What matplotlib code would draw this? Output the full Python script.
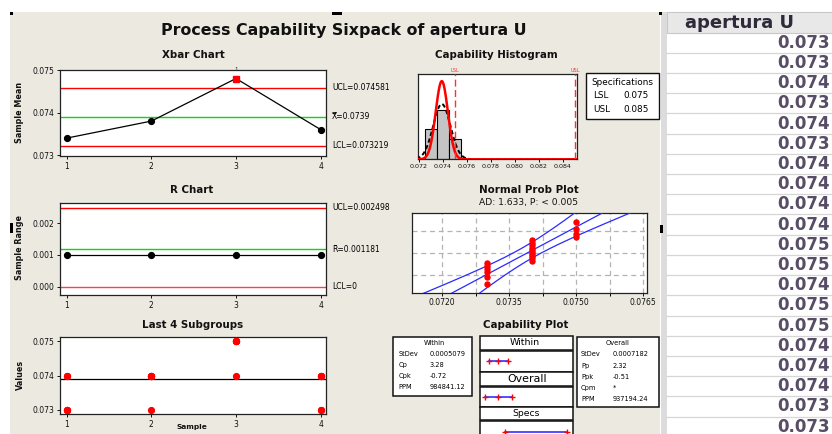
import numpy as np
import matplotlib
matplotlib.use("Agg")
import matplotlib.pyplot as plt
from matplotlib.patches import Rectangle
from matplotlib.ticker import FormatStrFormatter, NullFormatter
from statistics import NormalDist

W, H = 832, 434

# ---- data -------------------------------------------------------------
apertura_u = [0.073, 0.073, 0.074, 0.073, 0.074,
              0.073, 0.074, 0.074, 0.074, 0.074,
              0.075, 0.075, 0.074, 0.075, 0.075,
              0.074, 0.074, 0.074, 0.073, 0.073]
subgroup_size = 5
samples = [1, 2, 3, 4]

LSL, USL = 0.075, 0.085
xbar_ucl, xbar_lcl = 0.074581, 0.073219
r_center, r_ucl, r_lcl = 0.001181, 0.002498, 0.0
stdev_within = 0.0005079
stdev_overall = 0.0007182

within_stats = [("StDev", "0.0005079"), ("Cp", "3.28"), ("Cpk", "-0.72"),
                ("PPM", "984841.12")]
overall_stats = [("StDev", "0.0007182"), ("Pp", "2.32"), ("Ppk", "-0.51"),
                 ("Cpm", "*"), ("PPM", "937194.24")]
ad_label = "AD: 1.633, P: < 0.005"

values = np.array(apertura_u)
groups = values.reshape(-1, subgroup_size)
xbar = groups.mean(axis=1)
ranges = groups.max(axis=1) - groups.min(axis=1)
grand_mean = values.mean()
n = len(values)

BEIGE = "#ECE9E0"
FS_TICK = 5.5

fig = plt.figure(figsize=(W / 100, H / 100), dpi=100)
fig.patch.set_facecolor("white")


def px_axes(x0, y0, x1, y1, **kw):
    return fig.add_axes([x0 / W, 1 - y1 / H, (x1 - x0) / W, (y1 - y0) / H], **kw)


# ---- background canvas (pixel coordinates) ----------------------------
cv = px_axes(0, 0, W, H)
cv.set_xlim(0, W)
cv.set_ylim(H, 0)
cv.axis("off")
cv.add_patch(Rectangle((10, 12), 650, 430, fc=BEIGE, ec="none"))

# worksheet column on the right
cv.add_patch(Rectangle((660, 12), 172, 430, fc="white", ec="none"))
cv.add_patch(Rectangle((661, 12), 6, 430, fc="#DCDCDC", ec="none"))
cv.add_patch(Rectangle((667, 12), 170, 21, fc="#E8E8E8", ec="#C8C8C8", lw=0.8))
cv.text(685, 22.5, "apertura U", fontsize=13, fontweight="bold",
        color="#2E2A3A", ha="left", va="center")
for k, v in enumerate(apertura_u):
    yc = 42.8 + 20.2 * k
    cv.plot([667, 832], [yc + 10.1, yc + 10.1], color="#D6D6D6", lw=0.9)
    cv.text(830, yc, f"{v:.3f}", fontsize=12, fontweight="bold",
            color="#574D66", ha="right", va="center")

# selection handles
for (hx, hy, hw, hh) in [(10, 11.5, 3, 3.5), (332, 11.5, 10, 3.5), (658.5, 11.5, 3.5, 3.5),
                         (10, 223, 3, 10), (659.5, 225, 3, 8)]:
    cv.add_patch(Rectangle((hx, hy), hw, hh, fc="black", ec="none"))

# titles
cv.text(344, 31, "Process Capability Sixpack of apertura U", fontsize=11.4,
        fontweight="bold", ha="center", va="center", color="#111111")
for (tx, ty, s) in [(193.3, 55, "Xbar Chart"), (192, 190, "R Chart"),
                    (192.8, 325.5, "Last 4 Subgroups"),
                    (496.7, 55.5, "Capability Histogram"),
                    (528.7, 190, "Normal Prob Plot"),
                    (525.8, 325.5, "Capability Plot")]:
    cv.text(tx, ty, s, fontsize=7.4, fontweight="bold", ha="center",
            va="center", color="#111111")
cv.text(528.8, 203, ad_label, fontsize=6.6, ha="center", va="center", color="#111111")

for (tx, ty, s) in [(19.5, 112.5, "Sample Mean"), (19, 248, "Sample Range"),
                    (20, 375, "Values")]:
    cv.text(tx, ty, s, fontsize=5.8, fontweight="bold", rotation=90,
            ha="center", va="center", color="#111111")
cv.text(191.7, 424.3, "Sample", fontsize=5.3, fontweight="bold", ha="center",
        va="top", color="#111111")


def style_axes(ax):
    for sp in ax.spines.values():
        sp.set_linewidth(0.9)
        sp.set_color("#222222")
    ax.set_facecolor("white")
    ax.tick_params(direction="out", length=2.5, width=0.7, labelsize=FS_TICK,
                   pad=1.5, colors="#111111")


# ---- Xbar chart -------------------------------------------------------
ax1 = px_axes(60, 70, 326, 156)
style_axes(ax1)
ax1.axhline(xbar_ucl, color="#FF0000", lw=1)
ax1.axhline(grand_mean, color="#00E000", lw=1)
ax1.axhline(xbar_lcl, color="#FF0000", lw=1)
ax1.plot(samples, xbar, color="black", lw=0.9, zorder=3)
out = (xbar > xbar_ucl) | (xbar < xbar_lcl)
s_arr = np.array(samples)
ax1.plot(s_arr[~out], xbar[~out], "o", color="black", ms=4.2, zorder=4)
ax1.plot(s_arr[out], xbar[out], "s", color="#FF0000", ms=4.3, zorder=4)
for sx, sy in zip(s_arr[out], xbar[out]):
    ax1.annotate("1", (sx, sy), xytext=(0, 4.5), textcoords="offset points",
                 fontsize=4, ha="center", va="bottom", color="#222222")
ax1.set_xlim(0.921, 4.063)
ax1.set_ylim(0.07298, 0.075)
ax1.set_xticks(samples)
ax1.set_yticks([0.073, 0.074, 0.075])
ax1.yaxis.set_major_formatter(FormatStrFormatter("%.3f"))
yt = ax1.get_yaxis_transform()
ax1.text(1.023, xbar_ucl, f"UCL={xbar_ucl}", transform=yt, fontsize=5.5, va="center")
ax1.text(1.023, grand_mean, f"X\u033F={grand_mean:.4f}", transform=yt, fontsize=5.5, va="center")
ax1.text(1.023, xbar_lcl, f"LCL={xbar_lcl}", transform=yt, fontsize=5.5, va="center")

# ---- R chart ----------------------------------------------------------
ax2 = px_axes(60, 203.3, 326, 295)
style_axes(ax2)
ax2.axhline(r_ucl, color="#FF0000", lw=1)
ax2.axhline(r_center, color="#00E000", lw=1)
ax2.axhline(r_lcl, color="#FF4040", lw=1)
ax2.plot(samples, ranges, color="black", lw=0.9, marker="o", ms=4.2, zorder=4)
ax2.set_xlim(0.921, 4.063)
ax2.set_ylim(-0.000262, 0.002631)
ax2.set_xticks(samples)
ax2.set_yticks([0.0, 0.001, 0.002])
ax2.yaxis.set_major_formatter(FormatStrFormatter("%.3f"))
yt = ax2.get_yaxis_transform()
ax2.text(1.023, r_ucl, f"UCL={r_ucl}", transform=yt, fontsize=5.5, va="center")
ax2.text(1.023, r_center, f"R\u0304={r_center}", transform=yt, fontsize=5.5, va="center")
ax2.text(1.023, r_lcl, "LCL=0", transform=yt, fontsize=5.5, va="center")

# ---- Last 4 subgroups -------------------------------------------------
ax3 = px_axes(60, 336.7, 326, 414.3)
style_axes(ax3)
ax3.axhline(grand_mean, color="black", lw=0.9)
for s, g in zip(samples, groups):
    ax3.plot([s] * len(g), g, "o", color="#FF0000", ms=4.2, zorder=4)
ax3.set_xlim(0.921, 4.063)
ax3.set_ylim(0.072875, 0.075125)
ax3.set_xticks(samples)
ax3.set_yticks([0.073, 0.074, 0.075])
ax3.yaxis.set_major_formatter(FormatStrFormatter("%.3f"))

# ---- Capability histogram ---------------------------------------------
bin_width = 0.001
edges = np.arange(values.min() - bin_width / 2, values.max() + bin_width, bin_width)
axh = px_axes(417.7, 73.7, 577.3, 159.3)
style_axes(axh)
axh.hist(values, bins=edges, color="#C4C4C4", edgecolor="black", lw=0.8, zorder=2)
xs = np.linspace(0.0712, 0.0860, 800)
dist_w = NormalDist(grand_mean, stdev_within)
dist_o = NormalDist(grand_mean, stdev_overall)
scale = n * bin_width
axh.plot(xs, [dist_o.pdf(x) * scale for x in xs], color="black", lw=1.4,
         dashes=(2.2, 1.4), zorder=3)
axh.plot(xs, [dist_w.pdf(x) * scale for x in xs], color="#FF0000", lw=1.8, zorder=4)
for lim, name in [(LSL, "LSL"), (USL, "USL")]:
    axh.axvline(lim, color="#FF3030", lw=1, dashes=(5, 2.5), zorder=5)
    axh.text(lim, 1.01, name, transform=axh.get_xaxis_transform(), fontsize=3.6,
             color="#FF3030", ha="center", va="bottom")
axh.set_xlim(0.071892, 0.08519)
axh.set_ylim(0, 17.2)
axh.set_yticks([])
axh.set_xticks(np.arange(0.072, 0.0845, 0.002))
axh.xaxis.set_major_formatter(FormatStrFormatter("%.3f"))
axh.tick_params(axis="x", labelsize=4.6, length=2)

# specifications legend
cv.add_patch(Rectangle((586, 73.3), 73.3, 45.7, fc="white", ec="#111111", lw=1))
cv.text(622, 82.3, "Specifications", fontsize=6.4, ha="center", va="center")
cv.text(593, 95, "LSL", fontsize=6.4, ha="left", va="center")
cv.text(649, 95, f"{LSL:.3f}", fontsize=6.4, ha="right", va="center")
cv.text(593, 109.3, "USL", fontsize=6.4, ha="left", va="center")
cv.text(649, 109.3, f"{USL:.3f}", fontsize=6.4, ha="right", va="center")

# ---- Normal probability plot ------------------------------------------
nd = NormalDist()
axn = px_axes(412.3, 213.3, 647.3, 292.7)
style_axes(axn)
srt = np.sort(values)
z_pts = [nd.inv_cdf((i - 0.3) / (n + 0.4)) for i in range(1, n + 1)]
zz = np.linspace(-2.6, 2.6, 200)
fit = grand_mean + zz * stdev_overall
half = 1.96 * stdev_overall * np.sqrt(1 / n + zz ** 2 / (2 * (n - 1)))
for line in (fit - half, fit, fit + half):
    axn.plot(line, zz, color="#2A2AFF", lw=0.9, zorder=3)
axn.plot(srt, z_pts, "o", color="#FF0000", ms=3.6, zorder=4)
axn.set_xlim(0.071328, 0.07659)
axn.set_ylim(nd.inv_cdf(0.01), nd.inv_cdf(0.99))
axn.set_xticks([0.0720, 0.0735, 0.0750, 0.0765])
axn.set_xticks([0.07275, 0.07425, 0.07575], minor=True)
axn.xaxis.set_major_formatter(FormatStrFormatter("%.4f"))
axn.set_yticks([nd.inv_cdf(0.1), 0.0, nd.inv_cdf(0.9)])
axn.yaxis.set_major_formatter(NullFormatter())
axn.tick_params(axis="y", length=0)
axn.tick_params(axis="x", which="minor", length=2.5, width=0.7)
axn.grid(True, which="both", color="#B4B4B4", lw=0.9, linestyle=(0, (4, 3)), zorder=0)
axn.set_axisbelow(True)

# ---- Capability plot --------------------------------------------------
def stat_box(x0, y0, x1, y1, title, rows, tx, lx, vx, ys):
    cv.add_patch(Rectangle((x0, y0), x1 - x0, y1 - y0, fc="white", ec="#111111", lw=1.1))
    cv.text(tx, 343.3, title, fontsize=4.8, ha="center", va="center")
    for (lab, val), yy in zip(rows, ys):
        cv.text(lx, yy, lab, fontsize=4.8, ha="left", va="center")
        cv.text(vx, yy, val, fontsize=4.8, ha="left", va="center")


stat_box(393.3, 336.7, 472.3, 395.7, "Within", within_stats, 434.2, 398.3, 430,
         [354.3, 365, 375.7, 387.3])
stat_box(577.3, 336.7, 659.3, 406.7, "Overall", overall_stats, 617.3, 581, 612.3,
         [354.3, 365.7, 376.7, 387.7, 399])

for (y0, y1) in [(336, 350), (350.7, 371.7), (372.3, 386), (386.7, 406.7),
                 (407.3, 420), (421, 445)]:
    cv.add_patch(Rectangle((480, y0), 92.7, y1 - y0, fc="white", ec="#111111", lw=1.1))
cv.text(525, 342.9, "Within", fontsize=6.8, ha="center", va="center")
cv.text(527, 378.8, "Overall", fontsize=7.9, ha="center", va="center")
cv.text(526, 413.8, "Specs", fontsize=6.7, ha="center", va="center")

axc = px_axes(480, 336, 572.7, 434)
axc.set_xlim(0.070948, 0.085972)
axc.set_ylim(434, 336)
axc.axis("off")
axc.patch.set_alpha(0)
rows_c = [([grand_mean - 3 * stdev_within, grand_mean, grand_mean + 3 * stdev_within], 361),
          ([grand_mean - 3 * stdev_overall, grand_mean, grand_mean + 3 * stdev_overall], 396.7),
          ([LSL, USL], 431.7)]
for xs_c, yy in rows_c:
    axc.plot([xs_c[0], xs_c[-1]], [yy, yy], color="#2020FF", lw=1.1, zorder=2)
    axc.plot(xs_c, [yy] * len(xs_c), "+", color="#FF0000", ms=5, mew=1.0, zorder=3)

fig.savefig("out.png", dpi=100, facecolor=fig.get_facecolor())
